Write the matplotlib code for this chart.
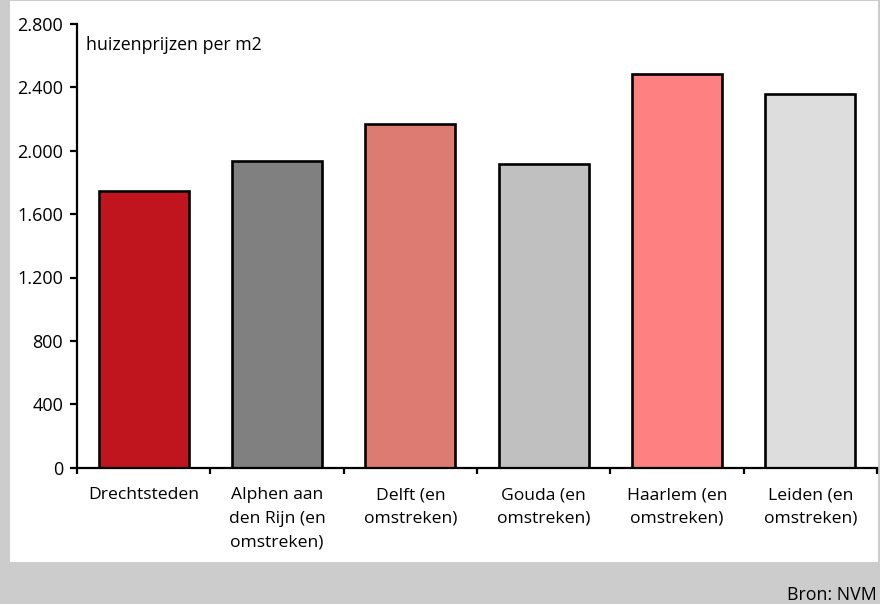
import matplotlib.pyplot as plt        # importa o módulo para plotagem
import matplotlib.patches as mpatches
import numpy as np

# dados
regioes = ['Drechtsteden',
           'Alphen aan\nden Rijn (en\nomstreken)',
           'Delft (en\nomstreken)',
           'Gouda (en\nomstreken)',
           'Haarlem (en\nomstreken)',
           'Leiden (en\nomstreken)']
precos  = [1745, 1935, 2170, 1915, 2485, 2355]
cores   = ['#C0141E', '#808080', '#DD7B72', '#C0C0C0', '#FF8080', '#DDDDDD']
yticks  = [0, 400, 800, 1200, 1600, 2000, 2400, 2800]
ylabels = ['0', '400', '800', '1.200', '1.600', '2.000', '2.400', '2.800']

# Formatando fontes
plt.rcParams['font.family'] = ['Open Sans', 'DejaVu Sans']
plt.rc('xtick', labelsize=12.6)
plt.rc('ytick', labelsize=13)

# Definindo as dimensões do layout da figura
fig = plt.figure(figsize=(8.8, 6.04), dpi=100)
fig.patch.set_facecolor('#CCCCCC')

# painel branco atrás do gráfico
painel = mpatches.Rectangle((10/880, 1 - 562/604), 868/880, 561/604,
                            transform=fig.transFigure, facecolor='white',
                            edgecolor='none', zorder=-5)
fig.patches.append(painel)

ax = fig.add_axes([77/880, 1 - 467.7/604, 800/880, 443.8/604])
ax.set_facecolor('none')

# Plotando as barras
x = np.arange(len(regioes))
ax.bar(x, precos, width=0.675, color=cores, edgecolor='black', linewidth=1.9, zorder=2)

# Formatando os eixos
ax.set_xlim(-0.5, len(regioes) - 0.5)
ax.set_ylim(0, 2800)
ax.set_yticks(yticks)
ax.set_yticklabels(ylabels)
ax.set_xticks(x)
ax.set_xticklabels(regioes, linespacing=1.62)
ax.tick_params(axis='x', length=0, pad=14)
ax.set_xticks(np.arange(-0.5, len(regioes)), minor=True)
ax.tick_params(axis='x', which='minor', length=4, width=1.6, direction='out')
ax.tick_params(axis='y', length=5, width=1.6, direction='out', pad=5)

for lado in ['top', 'right']:
    ax.spines[lado].set_visible(False)
for lado in ['left', 'bottom']:
    ax.spines[lado].set_linewidth(1.6)

# textos
ax.text(0.011, 0.953, 'huizenprijzen per m2', transform=ax.transAxes,
        fontsize=12.8, va='center', ha='left')
fig.text(877/880, 1 - 595/604, 'Bron: NVM', fontsize=12.8, ha='right', va='center')

# Salvando em arquivo
plt.savefig('out.png', dpi=100, facecolor=fig.get_facecolor())
